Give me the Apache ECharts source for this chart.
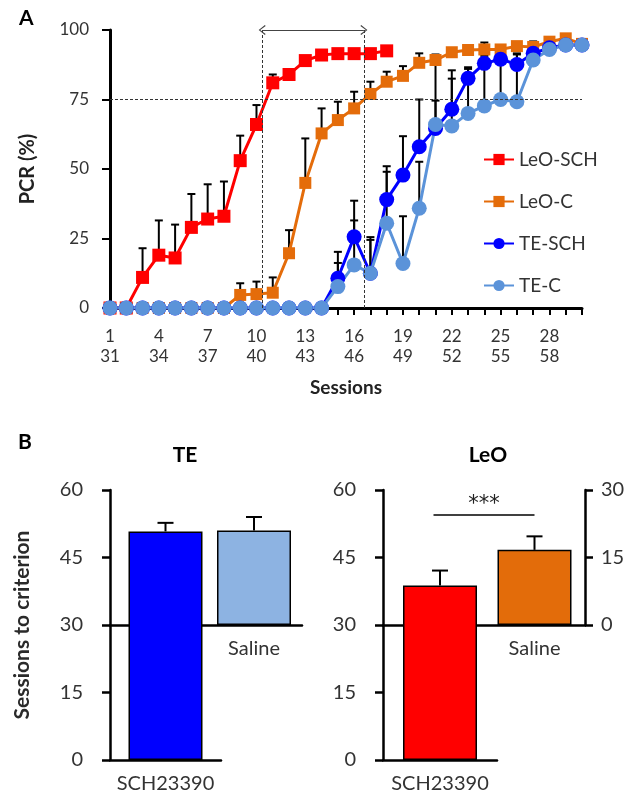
<!DOCTYPE html>
<html>
<head>
<meta charset="utf-8">
<script src="https://cdn.jsdelivr.net/npm/echarts@6/dist/echarts.min.js"></script>
<style>
  html, body { margin: 0; padding: 0; background: #fff; }
  #chart { width: 638px; height: 801px; }
</style>
</head>
<body>
<div id="chart"></div>
<script>
(function () {
    'use strict';

    // ---- panel A: percent correct responses per session ----
    var sessions = [1, 2, 3, 4, 5, 6, 7, 8, 9, 10, 11, 12, 13, 14, 15, 16, 17, 18, 19, 20, 21, 22, 23, 24, 25, 26, 27, 28, 29, 30];
    var leoSch    = [0, 0, 11, 19, 18, 29, 32, 33, 53, 66, 81, 84, 89, 91, 91.5, 91.5, 91.5, 92.5, null, null, null, null, null, null, null, null, null, null, null, null];
    var leoSchErr = [0, 0, 10.5, 12.5, 12, 12, 12.5, 12.5, 9, 7, 3, 1, 1, 1, 1, 1, 1, 1, null, null, null, null, null, null, null, null, null, null, null, null];
    var leoC      = [0, 0, 0, 0, 0, 0, 0, 0, 4.7, 5, 5.5, 19.7, 45, 62.8, 67.6, 71.8, 77, 81.4, 83.5, 88.2, 89.2, 92, 92.8, 93, 93, 94.2, 93.9, 95.8, 97, 95];
    var leoCErr   = [0, 0, 0, 0, 0, 0, 0, 0, 4.2, 4.5, 5.5, 8.3, 16, 9, 6.6, 6, 4.4, 3.6, 3.5, 3.4, 2, 1.5, 1.5, 2.5, 1.5, 1.5, 2, 1, 1, 1];
    var teSch     = [0, 0, 0, 0, 0, 0, 0, 0, 0, 0, 0, 0, 0, 0, 10.7, 25.6, 12.5, 39, 47.8, 58, 64.6, 71.5, 82.6, 88, 89.5, 87.6, 91.6, 93.6, 94.6, 94.6];
    var teSchErr  = [0, 0, 0, 0, 0, 0, 0, 0, 0, 0, 0, 0, 0, 0, 9.5, 13, 13, 12, 14, 17, 10, 14, 4, 5, 3, 4, 2, 1, 1, 1];
    var teC       = [0, 0, 0, 0, 0, 0, 0, 0, 0, 0, 0, 0, 0, 0, 7.7, 15.5, 12.5, 30.5, 16, 35.9, 66, 65.5, 70, 72.7, 75, 74.2, 89.2, 93, 94.6, 94.6];
    var teCErr    = [0, 0, 0, 0, 0, 0, 0, 0, 0, 0, 0, 0, 0, 0, 8.5, 16, 12, 18.5, 17, 16.7, 22, 17, 16, 18, 18, 17, 3, 1, 1, 1];

    var criterion = 75;
    var crossLeoSch = 10.35;   // where LeO-SCH reaches criterion
    var crossLeoC = 16.6;      // where LeO-C reaches criterion

    // ---- panel B: sessions to criterion ----
    var groups = ['SCH23390', 'Saline'];
    var teBars = [50.8, 51.0];
    var teBarErr = [1.9, 3.0];
    var leoBars = [38.8, 46.7];
    var leoBarErr = [3.3, 3.0];
    var salineBase = 30;

    var FONT = 'Lato';
    var TXT = '#333';

    function pairs(vals) {
        var out = [];
        sessions.forEach(function (s, i) {
            if (vals[i] !== null) out.push([s, vals[i]]);
        });
        return out;
    }
    function errTriples(vals, errs) {
        var out = [];
        sessions.forEach(function (s, i) {
            if (vals[i] !== null && errs[i]) out.push([s, vals[i], errs[i]]);
        });
        return out;
    }
    function errRender(capHalf, lw) {
        return function (params, api) {
            var x = api.value(0), y = api.value(1), e = api.value(2);
            var p0 = api.coord([x, y]);
            var p1 = api.coord([x, y + e]);
            var st = { stroke: '#000', lineWidth: lw };
            return {
                type: 'group',
                children: [
                    { type: 'line', shape: { x1: p0[0], y1: p0[1], x2: p1[0], y2: p1[1] }, style: st },
                    { type: 'line', shape: { x1: p1[0] - capHalf, y1: p1[1], x2: p1[0] + capHalf, y2: p1[1] }, style: st }
                ]
            };
        };
    }

    var blackLine = { lineStyle: { color: '#000', width: 3 } };
    var bAxisLine = { lineStyle: { color: '#000', width: 2.5 } };
    var bTick = { inside: false, length: 8, lineStyle: { color: '#000', width: 2.5 } };
    var dashStyle = { color: '#333', width: 1, type: [3, 2] };

    function lineSeries(name, vals, color, symbol, size) {
        return {
            name: name, type: 'line', xAxisIndex: 0, yAxisIndex: 0,
            data: pairs(vals), symbol: symbol, symbolSize: size,
            lineStyle: { color: color, width: 3 },
            itemStyle: { color: color },
            z: 3
        };
    }
    function errSeries(vals, errs) {
        return {
            type: 'custom', xAxisIndex: 0, yAxisIndex: 0,
            data: errTriples(vals, errs), renderItem: errRender(4, 2),
            encode: { x: 0, y: 1 }, z: 2, silent: true
        };
    }

    var chart = echarts.init(document.getElementById('chart'));

    var option = {
        animation: false,
        backgroundColor: '#fff',
        textStyle: { fontFamily: FONT },
        title: [
            { text: 'A', left: 14, top: 3, textStyle: { fontFamily: FONT, fontSize: 21, fontWeight: 'bold', color: '#000' } },
            { text: 'B', left: 13, top: 427, textStyle: { fontFamily: FONT, fontSize: 21, fontWeight: 'bold', color: '#000' } },
            { text: 'TE', left: 180, top: 440, textAlign: 'center', textStyle: { fontFamily: FONT, fontSize: 21, fontWeight: 'bold', color: '#000' } },
            { text: 'LeO', left: 483, top: 440, textAlign: 'center', textStyle: { fontFamily: FONT, fontSize: 21, fontWeight: 'bold', color: '#000' } }
        ],
        legend: {
            orient: 'vertical', left: 483, top: 150, padding: 0,
            itemWidth: 30, itemHeight: 14, itemGap: 23,
            textStyle: { fontFamily: FONT, fontSize: 19, color: TXT },
            data: ['LeO-SCH', 'LeO-C', 'TE-SCH', 'TE-C']
        },
        grid: [
            { left: 110, top: 30, width: 472, height: 278 },
            { left: 110, top: 490, width: 111, height: 270 },
            { left: 110, top: 490, width: 192, height: 135 },
            { left: 383, top: 490, width: 114, height: 270 },
            { left: 383, top: 490, width: 202, height: 135 }
        ],
        xAxis: [
            {
                gridIndex: 0, type: 'value', min: 1, max: 30, interval: 1,
                axisLine: blackLine,
                axisTick: { inside: false, length: 7, lineStyle: { color: '#000', width: 2 } },
                splitLine: { show: false },
                axisLabel: {
                    fontFamily: FONT, fontSize: 17, color: TXT, margin: 19, lineHeight: 20,
                    formatter: function (v) {
                        return ((v - 1) % 3 === 0 && v <= 28) ? v + '\n' + (v + 30) : '';
                    }
                },
                name: 'Sessions', nameLocation: 'middle', nameGap: 70,
                nameTextStyle: { fontFamily: FONT, fontSize: 19, fontWeight: 'bold', color: '#222' }
            },
            {
                gridIndex: 1, type: 'category', data: [groups[0]],
                axisLine: bAxisLine, axisTick: { show: false },
                axisLabel: { fontFamily: FONT, fontSize: 20, color: TXT, margin: 14 }
            },
            {
                gridIndex: 2, type: 'category', data: groups,
                axisLine: bAxisLine, axisTick: { show: false },
                axisLabel: {
                    fontFamily: FONT, fontSize: 20, color: TXT, margin: 14,
                    formatter: function (v) { return v === 'Saline' ? v : ''; }
                }
            },
            {
                gridIndex: 3, type: 'category', data: [groups[0]],
                axisLine: bAxisLine, axisTick: { show: false },
                axisLabel: { fontFamily: FONT, fontSize: 20, color: TXT, margin: 14 }
            },
            {
                gridIndex: 4, type: 'category', data: groups,
                axisLine: bAxisLine, axisTick: { show: false },
                axisLabel: {
                    fontFamily: FONT, fontSize: 20, color: TXT, margin: 14,
                    formatter: function (v) { return v === 'Saline' ? v : ''; }
                }
            }
        ],
        yAxis: [
            {
                gridIndex: 0, type: 'value', min: 0, max: 100, interval: 25,
                axisLine: { show: true, lineStyle: { color: '#000', width: 3 } },
                axisTick: { show: true, inside: false, length: 8, lineStyle: { color: '#000', width: 2 } },
                splitLine: { show: false },
                axisLabel: { fontFamily: FONT, fontSize: 17, color: TXT, margin: 21 },
                name: 'PCR (%)', nameLocation: 'middle', nameGap: 72,
                nameTextStyle: { fontFamily: FONT, fontSize: 20, fontWeight: 'bold', color: '#222' }
            },
            {
                gridIndex: 1, type: 'value', min: 0, max: 60, interval: 15,
                axisLine: { show: true, lineStyle: bAxisLine.lineStyle },
                axisTick: { show: true, inside: false, length: 8, lineStyle: bTick.lineStyle },
                splitLine: { show: false },
                axisLabel: { fontFamily: FONT, fontSize: 20, color: TXT, margin: 27 },
                name: 'Sessions to criterion', nameLocation: 'middle', nameGap: 77,
                nameTextStyle: { fontFamily: FONT, fontSize: 21, fontWeight: 'bold', color: '#2a2a2a' }
            },
            { gridIndex: 2, type: 'value', min: 0, max: 30, show: false },
            {
                gridIndex: 3, type: 'value', min: 0, max: 60, interval: 15,
                axisLine: { show: true, lineStyle: bAxisLine.lineStyle },
                axisTick: { show: true, inside: false, length: 8, lineStyle: bTick.lineStyle },
                splitLine: { show: false },
                axisLabel: { fontFamily: FONT, fontSize: 20, color: TXT, margin: 27 }
            },
            {
                gridIndex: 4, type: 'value', min: 0, max: 30, interval: 15, position: 'right',
                axisLine: { show: true, lineStyle: bAxisLine.lineStyle },
                axisTick: { show: true, inside: false, length: 8, lineStyle: bTick.lineStyle },
                splitLine: { show: false },
                axisLabel: { fontFamily: FONT, fontSize: 20, color: TXT, margin: 16 }
            }
        ],
        series: [
            errSeries(leoSch, leoSchErr),
            errSeries(leoC, leoCErr),
            errSeries(teSch, teSchErr),
            errSeries(teC, teCErr),
            (function () {
                var s = lineSeries('LeO-SCH', leoSch, '#FF0000', 'rect', 13);
                s.markLine = {
                    silent: true, symbol: 'none', precision: 2,
                    label: { show: false },
                    lineStyle: dashStyle,
                    data: [
                        [{ coord: [1, criterion] }, { coord: [30, criterion] }],
                        [{ coord: [crossLeoSch, 0] }, { coord: [crossLeoSch, 100] }],
                        [{ coord: [crossLeoC, 0] }, { coord: [crossLeoC, 100] }],
                        [
                            { coord: [crossLeoSch, 100], symbol: 'path://M5,0 L10,8 L9,9 L5,2 L1,9 L0,8 Z', symbolSize: [10, 7],
                              lineStyle: { color: '#444', width: 1, type: 'solid' } },
                            { coord: [crossLeoC, 100], symbol: 'path://M5,0 L10,8 L9,9 L5,2 L1,9 L0,8 Z', symbolSize: [10, 7] }
                        ]
                    ]
                };
                return s;
            })(),
            lineSeries('LeO-C', leoC, '#E46C0A', 'rect', 12),
            lineSeries('TE-SCH', teSch, '#0000FF', 'circle', 15),
            lineSeries('TE-C', teC, '#5B93D9', 'circle', 15),

            // panel B, TE
            {
                name: 'TE SCH', type: 'bar', xAxisIndex: 1, yAxisIndex: 1,
                data: [teBars[0]], barWidth: 74,
                itemStyle: { color: '#0000FF', borderColor: '#000', borderWidth: 1.5 }, z: 3
            },
            {
                name: 'TE Saline', type: 'bar', xAxisIndex: 2, yAxisIndex: 2,
                data: ['-', teBars[1] - salineBase], barWidth: 74,
                itemStyle: { color: '#8DB3E2', borderColor: '#000', borderWidth: 1.5 }, z: 3
            },
            {
                type: 'custom', xAxisIndex: 1, yAxisIndex: 1, encode: { x: 0, y: 1 },
                data: [[0, teBars[0], teBarErr[0]]], renderItem: errRender(8, 2), z: 2
            },
            {
                type: 'custom', xAxisIndex: 2, yAxisIndex: 2, encode: { x: 0, y: 1 },
                data: [[1, teBars[1] - salineBase, teBarErr[1]]], renderItem: errRender(8, 2), z: 2
            },

            // panel B, LeO
            {
                name: 'LeO SCH', type: 'bar', xAxisIndex: 3, yAxisIndex: 3,
                data: [leoBars[0]], barWidth: 74,
                itemStyle: { color: '#FF0000', borderColor: '#000', borderWidth: 1.5 }, z: 3
            },
            {
                name: 'LeO Saline', type: 'bar', xAxisIndex: 4, yAxisIndex: 4,
                data: ['-', leoBars[1] - salineBase], barWidth: 74,
                itemStyle: { color: '#E36C0A', borderColor: '#000', borderWidth: 1.5 }, z: 3,
                markLine: {
                    silent: true, symbol: 'none',
                    lineStyle: { color: '#000', width: 1.5, type: 'solid' },
                    label: {
                        show: true, position: 'middle', formatter: '***', distance: 0,
                        fontFamily: 'DejaVu Sans', fontSize: 21, color: '#222'
                    },
                    data: [[{ coord: [groups[0], 24.4] }, { coord: [groups[1], 24.4] }]]
                }
            },
            {
                type: 'custom', xAxisIndex: 3, yAxisIndex: 3, encode: { x: 0, y: 1 },
                data: [[0, leoBars[0], leoBarErr[0]]], renderItem: errRender(8, 2), z: 2
            },
            {
                type: 'custom', xAxisIndex: 4, yAxisIndex: 4, encode: { x: 0, y: 1 },
                data: [[1, leoBars[1] - salineBase, leoBarErr[1]]], renderItem: errRender(8, 2), z: 2
            }
        ]
    };

    chart.setOption(option);
    window.addEventListener('resize', function () {
        chart.resize();
    });
})();
</script>
</body>
</html>
